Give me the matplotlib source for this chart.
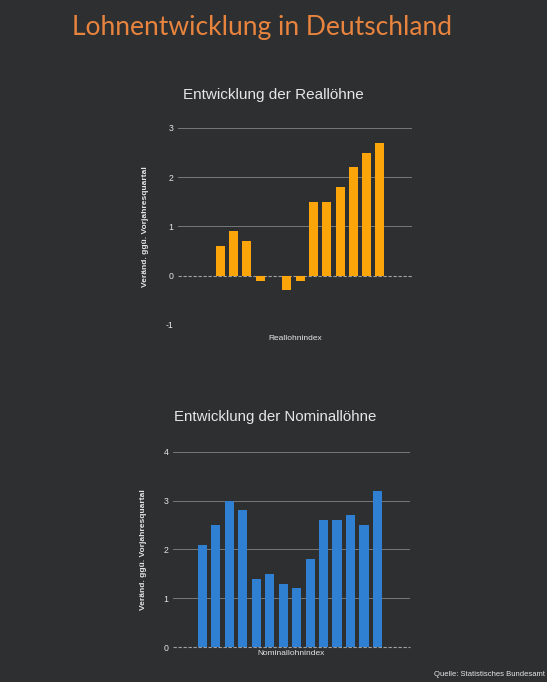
import matplotlib
matplotlib.use("Agg")
import matplotlib.pyplot as plt
import numpy as np

# Data
real_values = [0.0, 0.6, 0.9, 0.7, -0.1, 0.0, -0.3, -0.1, 1.5, 1.5, 1.8, 2.2, 2.5, 2.7]
nominal_values = [2.1, 2.5, 3.0, 2.8, 1.4, 1.5, 1.3, 1.2, 1.8, 2.6, 2.6, 2.7, 2.5, 3.2]
real_ticks = [-1, 0, 1, 2, 3]
nominal_ticks = [0, 1, 2, 3, 4]

main_title = "Lohnentwicklung in Deutschland"
real_title = "Entwicklung der Reallöhne"
nominal_title = "Entwicklung der Nominallöhne"
ylabel = "Veränd. ggü. Vorjahresquartal"
real_xlabel = "Reallohnindex"
nominal_xlabel = "Nominallohnindex"
source = "Quelle: Statistisches Bundesamt"

BG = "#2e2f31"
ORANGE = "#fba50a"
BLUE = "#2f80d2"
GRID = "#77787a"
TXT = "#e6e6e6"

plt.rcParams['font.family'] = ['Liberation Sans', 'DejaVu Sans']

fig = plt.figure(figsize=(5.47, 6.82), dpi=100, facecolor=BG)

def style_axes(ax, values, color, ticks, ylim):
    ax.set_facecolor(BG)
    x = np.arange(len(values))
    ax.bar(x, values, width=0.68, color=color, zorder=3)
    ax.set_ylim(*ylim)
    ax.set_xlim(-2.2, len(values) - 1 + 2.4)
    ax.set_yticks(ticks)
    ax.set_yticklabels([str(t) for t in ticks], fontsize=6.3, color=TXT)
    ax.set_xticks([])
    for s in ax.spines.values():
        s.set_visible(False)
    ax.tick_params(axis='y', length=0, pad=3)
    for t in ticks:
        if t == 0:
            ax.axhline(0, color="#a0a0a0", lw=0.8, ls=(0, (3, 1.5)), zorder=2, clip_on=False)
        elif t > ylim[0]:
            ax.axhline(t, color=GRID, lw=0.7, zorder=1)
    ax.set_ylabel(ylabel, fontsize=6, color=TXT, fontweight='bold', labelpad=12)

ax1 = fig.add_axes([0.325, 0.5235, 0.428, 0.2889])
style_axes(ax1, real_values, ORANGE, real_ticks, (-1, 3))
ax1.text(0.5, -0.05, real_xlabel, transform=ax1.transAxes, ha='center', va='top',
         fontsize=6, color=TXT)

ax2 = fig.add_axes([0.316, 0.0513, 0.433, 0.286])
style_axes(ax2, nominal_values, BLUE, nominal_ticks, (0, 4))
ax2.text(0.5, -0.015, nominal_xlabel, transform=ax2.transAxes, ha='center', va='top',
         fontsize=6, color=TXT)

fig.text(273 / 547, 1 - 95 / 682, real_title, ha='center', va='center', fontsize=11, color=TXT)
fig.text(275 / 547, 1 - 417 / 682, nominal_title, ha='center', va='center', fontsize=10.8, color=TXT)
fig.text(262 / 547, 1 - 28 / 682, main_title, ha='center', va='center', fontsize=19,
         color="#e8843e", family=['Lato', 'DejaVu Sans'])
fig.text(545 / 547, 1 - 675 / 682, source, ha='right', va='center', fontsize=5.5, color=TXT)

fig.savefig("out.png", dpi=100, facecolor=BG)
